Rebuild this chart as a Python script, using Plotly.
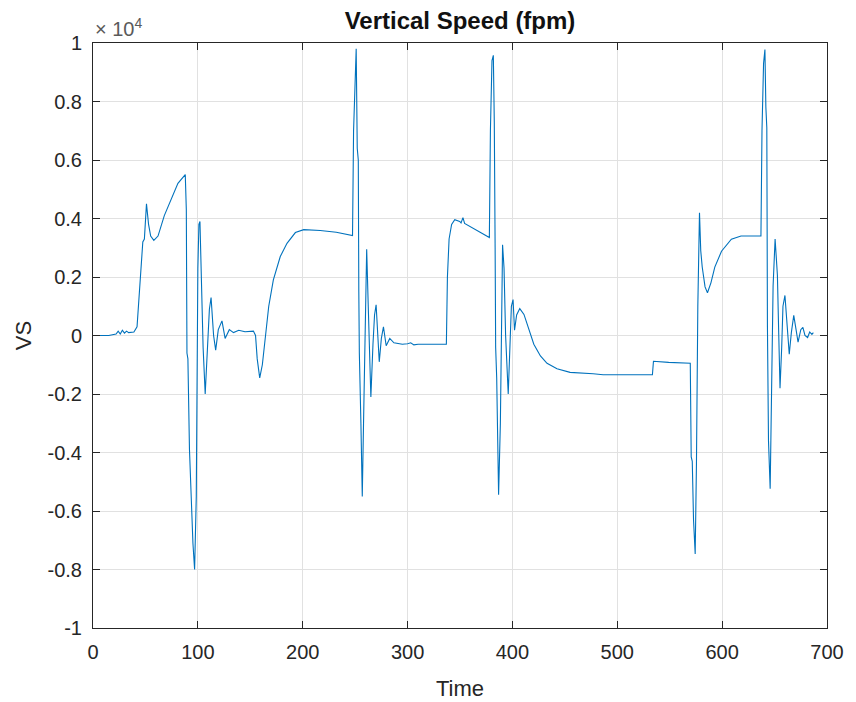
import plotly.graph_objects as go

# Time (s) and vertical speed (fpm)
time = [0, 15, 22, 24, 26, 28, 30, 32, 34, 39, 42, 44, 46, 47.5, 49, 51, 53, 55, 58, 62,
        68, 75, 81, 88, 89, 89.6, 90.5, 92, 93.7, 95.3, 96.9, 98.5, 100, 101, 102, 103,
        105, 107, 109, 111, 112.6, 115, 117, 119.5, 123, 126, 130, 134, 139, 145, 153,
        155, 156.6, 159, 161.5, 164, 167.6, 172, 178.6, 185, 193, 201, 216.7, 232, 245,
        247.5, 248.5, 250, 251, 252, 253, 253.5, 254, 255.5, 256.8, 258, 259, 260, 261,
        262.5, 264, 265, 267, 268.5, 270, 271.5, 273, 275, 277, 279.6, 283, 287, 295,
        300, 303, 306, 310, 337, 338, 339.6, 342, 345, 349.7, 351, 352.8, 354.4, 360.7,
        370, 378, 379, 380.5, 381.8, 382.7, 383.5, 384, 385, 386, 386.8, 388.5, 390,
        390.6, 392, 393.5, 396, 397.5, 399, 400.6, 402, 404, 407, 411, 415.7, 420.4,
        426.7, 433, 442.5, 455, 477, 486.5, 533.5, 534.5, 549, 569.6, 570.5, 571.5,
        572.7, 574.3, 575.5, 576, 576.8, 578.4, 579.6, 581, 583.7, 586, 589.3, 593,
        599.4, 608.8, 618, 637, 638, 639.5, 640.8, 641.7, 642.6, 643.2, 644.2, 645.8,
        647, 648.6, 650.5, 652.7, 654, 655.2, 656.8, 658, 659.9, 662, 664, 666, 668.3,
        670.5, 672.4, 675, 677, 679, 681.5, 683.5, 685.6, 687]

vs = [0, 0, 50, 150, 50, 180, 80, 150, 100, 120, 300, 1300, 2300, 3200, 3300, 4500,
      3800, 3400, 3250, 3400, 4100, 4700, 5200, 5500, 4300, -600, -800, -3900, -5800,
      -7100, -8000, -5500, 2300, 3800, 3900, 2300, -400, -2000, -400, 900, 1300, 0,
      -500, 200, 500, -100, 200, 100, 180, 130, 150, 0, -800, -1450, -1000, -100,
      1000, 1900, 2700, 3150, 3520, 3620, 3590, 3530, 3450, 3420, 7000, 9300, 9800,
      6400, 6000, 1500, -600, -3000, -5500, -3000, -800, 1500, 2950, 1000, -1200,
      -2100, -300, 700, 1050, -100, -900, -100, 300, -350, -100, -250, -300, -280,
      -250, -320, -300, -300, 2000, 3300, 3800, 3960, 3900, 3850, 4030, 3830, 3700,
      3530, 3350, 7000, 9400, 9580, 7300, 3000, -400, -1450, -4000, -5440, -3000,
      1000, 3100, 2300, 0, -2000, -400, 1000, 1230, 180, 700, 920, 720, 180, -300,
      -700, -950, -1140, -1260, -1310, -1340, -1340, -880, -920, -950, -4150, -4300,
      -6300, -7470, -4400, -2400, 1000, 4200, 2900, 2340, 1660, 1460, 1800, 2340,
      2880, 3290, 3400, 3400, 7000, 9300, 9780, 7800, 7100, 300, -3600, -5240,
      -1700, 1700, 3300, 2070, 0, -1800, -400, 1000, 1370, 400, -640, 100, 690, 200,
      -230, 200, 280, 0, -70, 120, 40, 100]

x_ticks = [0, 100, 200, 300, 400, 500, 600, 700]
y_ticks = [-10000, -8000, -6000, -4000, -2000, 0, 2000, 4000, 6000, 8000, 10000]
y_tick_text = ["-1", "-0.8", "-0.6", "-0.4", "-0.2", "0", "0.2", "0.4", "0.6", "0.8", "1"]

FONT = "Liberation Sans, Arial, sans-serif"
INK = "#262626"
GRID = "#e1e1e1"

fig = go.Figure()
fig.add_trace(go.Scatter(x=time, y=vs, mode="lines",
                         line=dict(color="#0072BD", width=1.1),
                         showlegend=False))

axis_common = dict(showline=True, linecolor=INK, linewidth=1, mirror="ticks",
                   ticks="inside", ticklen=7, tickcolor=INK, tickwidth=1,
                   showgrid=True, gridcolor=GRID, gridwidth=1, zeroline=False,
                   tickfont=dict(family=FONT, size=20, color=INK))

fig.update_layout(
    width=856, height=702,
    margin=dict(l=93, r=22, t=43, b=74),
    paper_bgcolor="white", plot_bgcolor="white",
    font=dict(family=FONT, color=INK),
    title=dict(text="<b>Vertical Speed (fpm)</b>", x=0.5, xref="paper",
               y=1 - 21 / 702, yref="container", yanchor="middle", xanchor="center",
               font=dict(family=FONT, size=24, color="#111111")),
    xaxis=dict(range=[0, 700], tickvals=x_ticks, ticklabelstandoff=6, **axis_common),
    yaxis=dict(range=[-10000, 10000], tickvals=y_ticks, ticktext=y_tick_text,
               ticklabelstandoff=6, **axis_common),
)

fig.add_annotation(text="Time", xref="paper", yref="paper", x=0.5, y=-(688 - 628) / 585,
                   yanchor="middle", xanchor="center", showarrow=False,
                   font=dict(family=FONT, size=22, color=INK))
fig.add_annotation(text="VS", xref="paper", yref="paper", x=-(93 - 23) / 741, y=0.5,
                   yanchor="middle", xanchor="center", showarrow=False, textangle=-90,
                   font=dict(family=FONT, size=22, color=INK))
fig.add_annotation(text="× 10<sup>4</sup>", xref="paper", yref="paper", x=0, y=1,
                   xanchor="left", yanchor="bottom", yshift=1, showarrow=False,
                   font=dict(family=FONT, size=20, color="#5a5a5a"))

fig.write_html("out.html")
